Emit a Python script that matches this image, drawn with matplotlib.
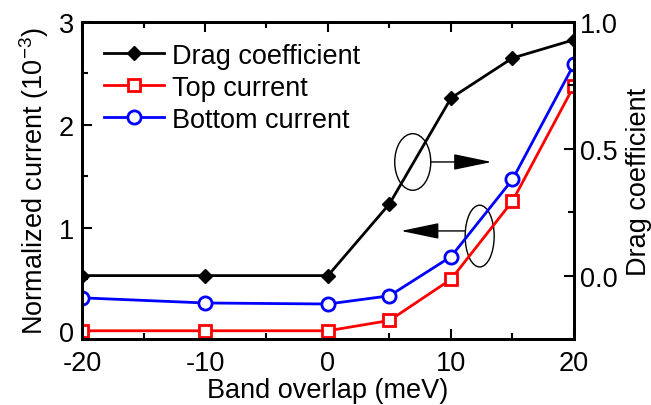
import matplotlib
matplotlib.use("Agg")
import matplotlib.pyplot as plt
from matplotlib.patches import Ellipse
from matplotlib.ticker import MultipleLocator, FormatStrFormatter

plt.rcParams['font.family'] = ['Liberation Sans', 'DejaVu Sans']
plt.rcParams['mathtext.fontset'] = 'custom'
plt.rcParams['mathtext.rm'] = 'Liberation Sans'
plt.rcParams['mathtext.it'] = 'Liberation Sans'
plt.rcParams['axes.unicode_minus'] = False

# data
overlap = [-20, -10, 0, 5, 10, 15, 20]
drag_coef = [0.0, 0.0, 0.0, 0.283, 0.70, 0.858, 0.93]
top_current = [0.0, 0.0, 0.0, 0.10, 0.50, 1.26, 2.38]
bottom_current = [0.32, 0.27, 0.26, 0.34, 0.72, 1.47, 2.59]

FS = 19.5

fig = plt.figure(figsize=(6.51, 4.06), dpi=100)
ax1 = fig.add_axes([82/651, 66/406, 492/651, 317/406])
ax2 = ax1.twinx()

l_top, = ax1.plot(overlap, top_current, color='#ff0000', lw=2, marker='s',
                  ms=8, mfc='white', mec='#ff0000', mew=2, label='Top current')
l_bot, = ax1.plot(overlap, bottom_current, color='#0000ff', lw=2, marker='o',
                  ms=9.5, mfc='white', mec='#0000ff', mew=2, label='Bottom current')
l_drag, = ax2.plot(overlap, drag_coef, color='black', lw=2, marker='D',
                   ms=7.5, mfc='black', mec='black', label='Drag coefficient')

ax1.set_xlim(-20, 20)
ax1.set_ylim(-0.08, 3)
ax2.set_ylim(-0.25, 1.0)

ax1.xaxis.set_major_locator(MultipleLocator(10))
ax1.xaxis.set_minor_locator(MultipleLocator(5))
ax1.yaxis.set_major_locator(MultipleLocator(1))
ax1.yaxis.set_minor_locator(MultipleLocator(0.5))
ax2.yaxis.set_major_locator(MultipleLocator(0.5))
ax2.yaxis.set_minor_locator(MultipleLocator(0.25))
ax2.yaxis.set_major_formatter(FormatStrFormatter('%.1f'))

ax1.tick_params(axis='x', which='both', direction='in', top=True, width=1.5,
                labelsize=FS, pad=8)
ax1.tick_params(axis='y', which='both', direction='in', right=False, width=1.5,
                labelsize=FS, pad=6)
ax2.tick_params(axis='y', which='both', direction='in', width=1.5,
                labelsize=FS, pad=4)
for a in (ax1, ax2):
    a.tick_params(which='major', length=7)
    a.tick_params(which='minor', length=4)
    for s in a.spines.values():
        s.set_linewidth(2)

ax1.set_xlabel('Band overlap (meV)', fontsize=FS, labelpad=1)
ax1.set_ylabel('Normalized current (10$^{-3}$)', fontsize=FS, labelpad=5)
ax2.set_ylabel('Drag coefficient', fontsize=FS, labelpad=6)

# ellipses with arrows pointing at the matching axis
ax1.add_patch(Ellipse((6.89, 1.64), 2.93, 0.55, fill=False, ec='black', lw=1))
ax1.annotate('', xy=(13.3, 1.64), xytext=(8.35, 1.64),
             arrowprops=dict(arrowstyle='-|>,head_length=2.4,head_width=0.5',
                             mutation_scale=10, color='black', lw=1,
                             shrinkA=0, shrinkB=0))
ax1.add_patch(Ellipse((12.33, 0.92), 2.36, 0.60, fill=False, ec='black', lw=1))
ax1.annotate('', xy=(5.93, 0.97), xytext=(11.14, 0.97),
             arrowprops=dict(arrowstyle='-|>,head_length=2.4,head_width=0.5',
                             mutation_scale=10, color='black', lw=1,
                             shrinkA=0, shrinkB=0))

ax2.legend(handles=[l_drag, l_top, l_bot], loc='upper left',
           bbox_to_anchor=(0.045, 0.935), frameon=False, fontsize=FS,
           handlelength=2.2, handletextpad=0.3, labelspacing=0.22,
           borderpad=0, borderaxespad=0)

fig.savefig('out.png', dpi=100)
